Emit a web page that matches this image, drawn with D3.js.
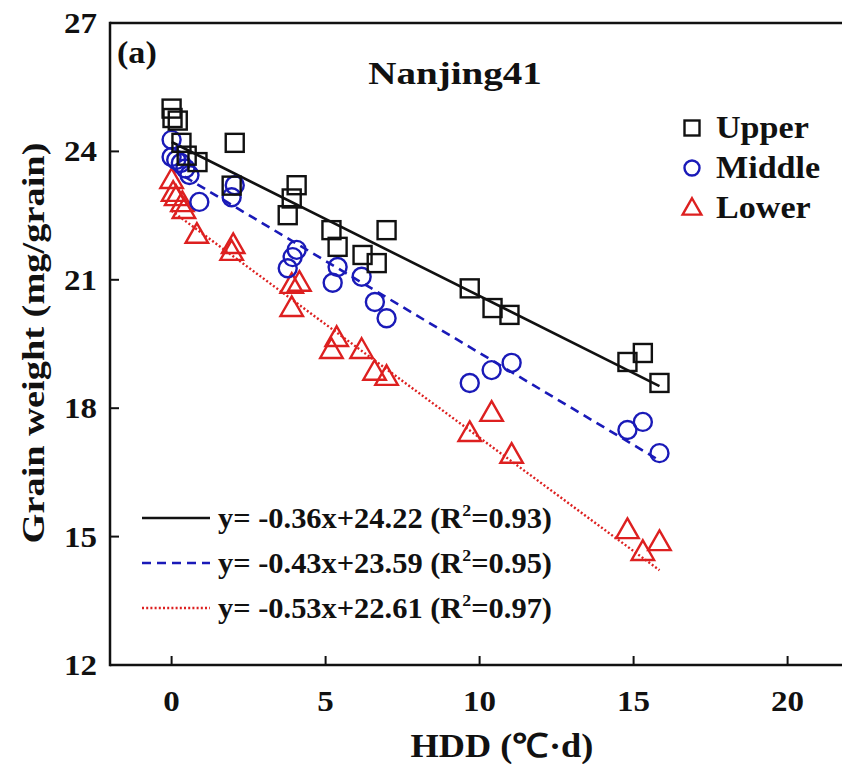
<!DOCTYPE html>
<html>
<head>
<meta charset="utf-8">
<script src="https://cdn.jsdelivr.net/npm/d3@7"></script>
<style>
  html, body { margin: 0; padding: 0; background: #fff; }
  svg text { font-family: "Liberation Serif", "Times New Roman", Times, serif; font-weight: 700; fill: #111; }
</style>
</head>
<body>
<svg id="chart" width="842" height="764"></svg>
<script>
// Grain weight vs. HDD by spike position (Nanjing41)
const upperHDD = [0.00, 0.03, 0.20, 0.32, 0.49, 0.84, 2.05, 1.95, 4.06, 3.90, 3.77, 5.19, 5.39, 6.20, 6.66, 6.98, 9.68, 10.42, 10.97, 14.80, 15.30, 15.84];
const upperGW  = [25.00, 24.78, 24.72, 24.20, 23.90, 23.75, 24.20, 23.20, 23.21, 22.90, 22.51, 22.16, 21.77, 21.58, 21.39, 22.16, 20.80, 20.34, 20.18, 19.08, 19.29, 18.59];

const middleHDD = [0.00, 0.00, 0.15, 0.30, 0.45, 0.58, 0.90, 2.05, 1.95, 4.06, 3.93, 3.77, 5.23, 5.39, 6.17, 6.60, 6.98, 9.68, 10.39, 11.04, 14.80, 15.30, 15.84];
const middleGW  = [24.27, 23.87, 23.80, 23.73, 23.60, 23.45, 22.82, 23.21, 22.93, 21.70, 21.53, 21.27, 20.93, 21.30, 21.07, 20.48, 20.10, 18.59, 18.89, 19.06, 17.49, 17.68, 16.95];

const lowerHDD = [0.00, 0.05, 0.15, 0.35, 0.40, 0.82, 2.00, 1.95, 3.90, 4.15, 3.90, 5.36, 5.19, 6.17, 6.59, 6.98, 9.68, 10.39, 11.04, 14.80, 15.30, 15.84];
const lowerGW  = [23.33, 23.03, 22.93, 22.79, 22.63, 22.05, 21.81, 21.65, 20.88, 20.93, 20.34, 19.64, 19.36, 19.36, 18.85, 18.73, 17.42, 17.89, 16.91, 15.15, 14.64, 14.87];

const seriesNames = ["Upper", "Middle", "Lower"];
const slopes      = [-0.36, -0.43, -0.53];
const intercepts  = [24.22, 23.59, 22.61];
const r2Values    = ["0.93", "0.95", "0.97"];
const fitRange    = [0, 15.84];

const xTicks = [0, 5, 10, 15, 20];
const yTicks = [12, 15, 18, 21, 24, 27];

const colors = ["#111111", "#1a1ab8", "#dd2020"];
const FONT = "'Liberation Serif', 'Times New Roman', Times, serif";

const svg = d3.select("#chart");
const plotLeft = 110, plotTop = 23, plotBottom = 665;
const x = d3.scaleLinear().domain([-2, 22]).range([plotLeft, plotLeft + 24 * 30.8]);
const y = d3.scaleLinear().domain([12, 27]).range([plotBottom, plotTop]);

// bold serif text helper (slightly widened glyphs)
function label(g, px, py, str, size, anchor, sx = 1.1) {
  return g.append("text")
    .attr("transform", `translate(${px},${py}) scale(${sx},1)`)
    .attr("font-family", FONT)
    .attr("font-weight", 700)
    .attr("font-size", size)
    .attr("text-anchor", anchor || "start")
    .text(str);
}

// axes frame
const axisG = svg.append("g");
axisG.append("line").attr("x1", plotLeft).attr("x2", 842).attr("y1", plotTop).attr("y2", plotTop)
  .attr("stroke", "#111").attr("stroke-width", 2.5);
axisG.append("line").attr("x1", plotLeft).attr("x2", 842).attr("y1", plotBottom).attr("y2", plotBottom)
  .attr("stroke", "#111").attr("stroke-width", 2.5);
axisG.append("line").attr("x1", plotLeft).attr("x2", plotLeft).attr("y1", plotTop - 1.2).attr("y2", plotBottom + 1.2)
  .attr("stroke", "#111").attr("stroke-width", 2.5);

// inward ticks
axisG.selectAll(".xt").data(xTicks).join("line")
  .attr("x1", d => x(d)).attr("x2", d => x(d))
  .attr("y1", plotBottom).attr("y2", plotBottom - 9)
  .attr("stroke", "#111").attr("stroke-width", 2);
axisG.selectAll(".yt").data(yTicks.slice(1, -1)).join("line")
  .attr("x1", plotLeft).attr("x2", plotLeft + 9)
  .attr("y1", d => y(d)).attr("y2", d => y(d))
  .attr("stroke", "#111").attr("stroke-width", 2);

xTicks.forEach(t => label(svg, x(t), 711, String(t), 30, "middle"));
yTicks.forEach(t => label(svg, 97, y(t) + 10, String(t), 30, "end"));

label(svg, 502, 757, "HDD (℃·d)", 33, "middle", 1.1);
svg.append("text")
  .attr("transform", "translate(44,343) rotate(-90) scale(1.2,1)")
  .attr("font-family", FONT).attr("font-weight", 700)
  .attr("font-size", 32).attr("text-anchor", "middle")
  .text("Grain weight (mg/grain)");

label(svg, 117, 63, "(a)", 31, "start");
label(svg, 455, 84, "Nanjing41", 32, "middle", 1.22);

// fitted lines
const dashes = [null, "9,6", "2,2.2"];
const widths = [2.6, 2.6, 2.4];
const fits = svg.append("g");
slopes.forEach((s, i) => {
  fits.append("line")
    .attr("x1", x(fitRange[0])).attr("y1", y(intercepts[i] + s * fitRange[0]))
    .attr("x2", x(fitRange[1])).attr("y2", y(intercepts[i] + s * fitRange[1]))
    .attr("stroke", colors[i]).attr("stroke-width", widths[i])
    .attr("stroke-dasharray", dashes[i]);
});

// marker shapes
function marker(g, kind, cx, cy, s, color) {
  if (kind === 0) {
    g.append("rect").attr("x", cx - s / 2).attr("y", cy - s / 2).attr("width", s).attr("height", s)
      .attr("fill", "none").attr("stroke", color).attr("stroke-width", 2.4);
  } else if (kind === 1) {
    g.append("circle").attr("cx", cx).attr("cy", cy).attr("r", s / 2)
      .attr("fill", "none").attr("stroke", color).attr("stroke-width", 2.4);
  } else {
    const w = s * 1.25, h = s * 1.05;
    g.append("path")
      .attr("d", `M${cx},${cy - h * 0.62} L${cx + w / 2},${cy + h * 0.42} L${cx - w / 2},${cy + h * 0.42} Z`)
      .attr("fill", "none").attr("stroke", color).attr("stroke-width", 2.4).attr("stroke-linejoin", "miter");
  }
}

const pts = svg.append("g");
const allX = [upperHDD, middleHDD, lowerHDD];
const allY = [upperGW, middleGW, lowerGW];
[2, 1, 0].forEach(i => {
  allX[i].forEach((hx, j) => marker(pts, i, x(hx), y(allY[i][j]), 18, colors[i]));
});

// symbol legend
const leg = svg.append("g");
seriesNames.forEach((n, i) => {
  const cy = 128 + i * 40;
  marker(leg, i, 692, cy, 15, colors[i]);
  label(leg, 716, cy + 10, n, 31, "start");
});

// equation legend
const eq = svg.append("g");
slopes.forEach((s, i) => {
  const ly = 518 + i * 45;
  eq.append("line").attr("x1", 142).attr("x2", 210).attr("y1", ly).attr("y2", ly)
    .attr("stroke", colors[i]).attr("stroke-width", widths[i])
    .attr("stroke-dasharray", dashes[i]);
  const t = eq.append("text")
    .attr("transform", `translate(218,${ly + 10}) scale(1.05,1)`)
    .attr("font-family", FONT).attr("font-weight", 700)
    .attr("font-size", 29);
  t.append("tspan").text(`y= ${s.toFixed(2)}x+${intercepts[i].toFixed(2)} (R`);
  t.append("tspan").attr("font-size", 17).attr("dy", -12).text("2");
  t.append("tspan").attr("dy", 12).text(`=${r2Values[i]})`);
});
</script>
</body>
</html>
